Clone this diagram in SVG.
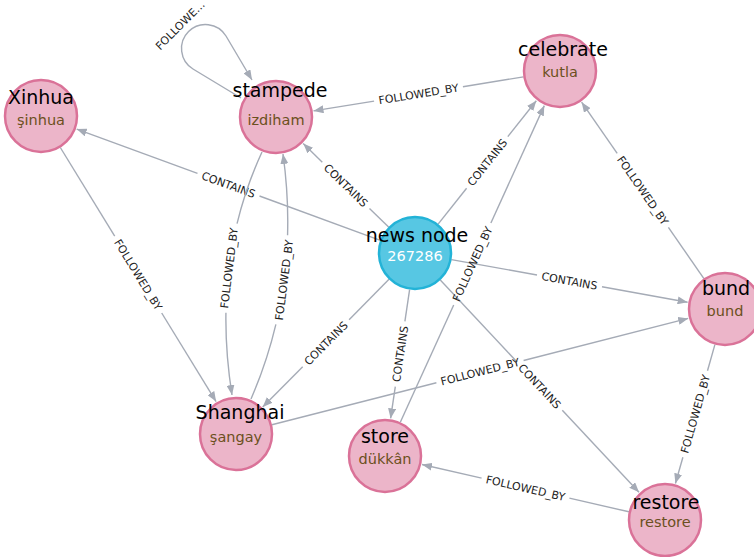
<svg xmlns="http://www.w3.org/2000/svg" width="754" height="557" viewBox="0 0 754 557">
<defs>
<marker id="arr" markerUnits="userSpaceOnUse" markerWidth="10" markerHeight="8" viewBox="0 0 10 8" refX="10" refY="4" orient="auto">
<path d="M0,0 L10,4 L0,8 z" fill="#a5abb6"/>
</marker>
<style>
.e{stroke:#a5abb6;stroke-width:1.4;fill:none}
.l{font-family:"DejaVu Sans",sans-serif;font-size:11px;fill:#222;text-anchor:middle}
.n circle{fill:#ecb5c9;stroke:#da7298;stroke-width:2.5}
.b circle{fill:#57c7e3;stroke:#23b3d7;stroke-width:2.5}
.t{font-family:"DejaVu Sans",sans-serif;font-size:19px;fill:#000;text-anchor:middle}
.s{font-family:"DejaVu Sans",sans-serif;font-size:14.5px;fill:#6b5020;text-anchor:middle}
.b .s{fill:#fff}
</style>
</defs>
<rect width="754" height="557" fill="#fff"/>
<g id="connectors">
<!-- loop stampede -->
<path class="e" d="M241,98 L193,69 A24 24 0 1 1 226,36 L252,80" marker-end="url(#arr)"/>
<text class="l" transform="translate(185,30) rotate(-45)" y="-3">FOLLOWE…</text>
<!-- news -> Xinhua -->
<path class="e" d="M380.3,240.3 L259.5,196"/><path class="e" d="M197.5,173.3 L76.7,129.1" marker-end="url(#arr)"/>
<text class="l" transform="translate(228.5,184.7) rotate(20.1)" y="4">CONTAINS</text>
<!-- news -> stampede -->
<path class="e" d="M388.6,227.1 L369.5,208.5"/><path class="e" d="M322.3,162.3 L303.2,143.6" marker-end="url(#arr)"/>
<text class="l" transform="translate(345.9,185.4) rotate(44.4)" y="4">CONTAINS</text>
<!-- news -> celebrate -->
<path class="e" d="M438.1,224.1 L466.6,188.2"/><path class="e" d="M507.8,136.6 L536.3,100.7" marker-end="url(#arr)"/>
<text class="l" transform="translate(487.2,162.4) rotate(-51.45)" y="4">CONTAINS</text>
<!-- news -> bund -->
<path class="e" d="M451.4,259.6 L537,275"/><path class="e" d="M602,286.8 L687.6,302.2" marker-end="url(#arr)"/>
<text class="l" transform="translate(569.5,280.9) rotate(10.24)" y="4">CONTAINS</text>
<!-- news -> Shanghai -->
<path class="e" d="M389,279.3 L349.1,319.7"/><path class="e" d="M302.7,366.7 L262.7,407" marker-end="url(#arr)"/>
<text class="l" transform="translate(325.9,343.2) rotate(-45.3)" y="4">CONTAINS</text>
<!-- news -> store -->
<path class="e" d="M409.6,289.6 L404.9,321.4"/><path class="e" d="M395.3,386.6 L390.6,418.4" marker-end="url(#arr)"/>
<text class="l" transform="translate(400.1,354) rotate(-81.6)" y="4">CONTAINS</text>
<!-- news -> restore -->
<path class="e" d="M440.3,280 L517.1,362.1"/><path class="e" d="M562.3,410.3 L639,492.3" marker-end="url(#arr)"/>
<text class="l" transform="translate(539.7,386.2) rotate(46.9)" y="4">CONTAINS</text>
<!-- celebrate -> stampede -->
<path class="e" d="M523.5,76.9 L462.9,86.7"/><path class="e" d="M374.1,101.1 L313.5,110.9" marker-end="url(#arr)"/>
<text class="l" transform="translate(418.5,93.9) rotate(-9.2)" y="4">FOLLOWED_BY</text>
<!-- Xinhua -> Shanghai -->
<path class="e" d="M60.3,147.5 L114.7,236.2"/><path class="e" d="M161.7,313 L216.1,401.6" marker-end="url(#arr)"/>
<text class="l" transform="translate(138.2,274.6) rotate(58.5)" y="4">FOLLOWED_BY</text>
<!-- stampede -> Shanghai (curve) -->
<path class="e" d="M262,152 Q211,262.5 232,395" pathLength="100" stroke-dasharray="30.6 36.2 100" marker-end="url(#arr)"/>
<text class="l" transform="translate(229,268) rotate(-83)" y="4">FOLLOWED_BY</text>
<!-- Shanghai -> stampede (curve) -->
<path class="e" d="M251,399 Q301,283.5 283,154" pathLength="100" stroke-dasharray="31.5 36 100" marker-end="url(#arr)"/>
<text class="l" transform="translate(284,280) rotate(-82.6)" y="4">FOLLOWED_BY</text>
<!-- bund -> celebrate -->
<path class="e" d="M703.9,278.6 L668.4,227.4"/><path class="e" d="M617.2,153.4 L581.6,102.2" marker-end="url(#arr)"/>
<text class="l" transform="translate(642.8,190.4) rotate(55.3)" y="4">FOLLOWED_BY</text>
<!-- bund -> restore -->
<path class="e" d="M714.9,344.6 L707.5,370.8"/><path class="e" d="M682.9,457.3 L675.4,483.5" marker-end="url(#arr)"/>
<text class="l" transform="translate(695.2,414) rotate(-74.1)" y="4">FOLLOWED_BY</text>
<!-- Shanghai -> bund -->
<path class="e" d="M271.9,424.8 L436.4,382.8"/><path class="e" d="M523.6,360.5 L688.2,318.4" marker-end="url(#arr)"/>
<text class="l" transform="translate(480,371.6) rotate(-14.3)" y="4">FOLLOWED_BY</text>
<!-- store -> celebrate -->
<path class="e" d="M400.3,422.3 L453.7,305"/><path class="e" d="M490.9,223 L544.3,105.6" marker-end="url(#arr)"/>
<text class="l" transform="translate(472.3,264) rotate(-65.6)" y="4">FOLLOWED_BY</text>
<!-- restore -> store -->
<path class="e" d="M628.9,511.8 L569.4,498.1"/><path class="e" d="M481.6,478.1 L422,464.5" marker-end="url(#arr)"/>
<text class="l" transform="translate(525.5,488.1) rotate(12.9)" y="4">FOLLOWED_BY</text>
</g>
<g id="node-xinhua" class="n"><circle cx="41" cy="116" r="36"/><text class="t" x="41" y="103.5">Xinhua</text><text class="s" x="41" y="124.5">şinhua</text></g>
<g id="node-stampede" class="n"><circle cx="276" cy="117" r="36"/><text class="t" x="280" y="97">stampede</text><text class="s" x="276" y="125">izdiham</text></g>
<g id="node-celebrate" class="n"><circle cx="560" cy="71" r="36"/><text class="t" x="563" y="56">celebrate</text><text class="s" x="560" y="77">kutla</text></g>
<g id="node-news" class="b"><circle cx="415" cy="253" r="36"/><text class="t" x="417" y="241.5">news node</text><text class="s" x="415" y="261">267286</text></g>
<g id="node-bund" class="n"><circle cx="725" cy="309" r="36"/><text class="t" x="726" y="295">bund</text><text class="s" x="725" y="316">bund</text></g>
<g id="node-shanghai" class="n"><circle cx="236" cy="434" r="36"/><text class="t" x="240" y="419">Shanghai</text><text class="s" x="236" y="442">şangay</text></g>
<g id="node-store" class="n"><circle cx="385" cy="456" r="36"/><text class="t" x="385" y="443">store</text><text class="s" x="385" y="464">dükkân</text></g>
<g id="node-restore" class="n"><circle cx="665" cy="520" r="36"/><text class="t" x="666" y="509">restore</text><text class="s" x="665" y="527">restore</text></g>
</svg>
